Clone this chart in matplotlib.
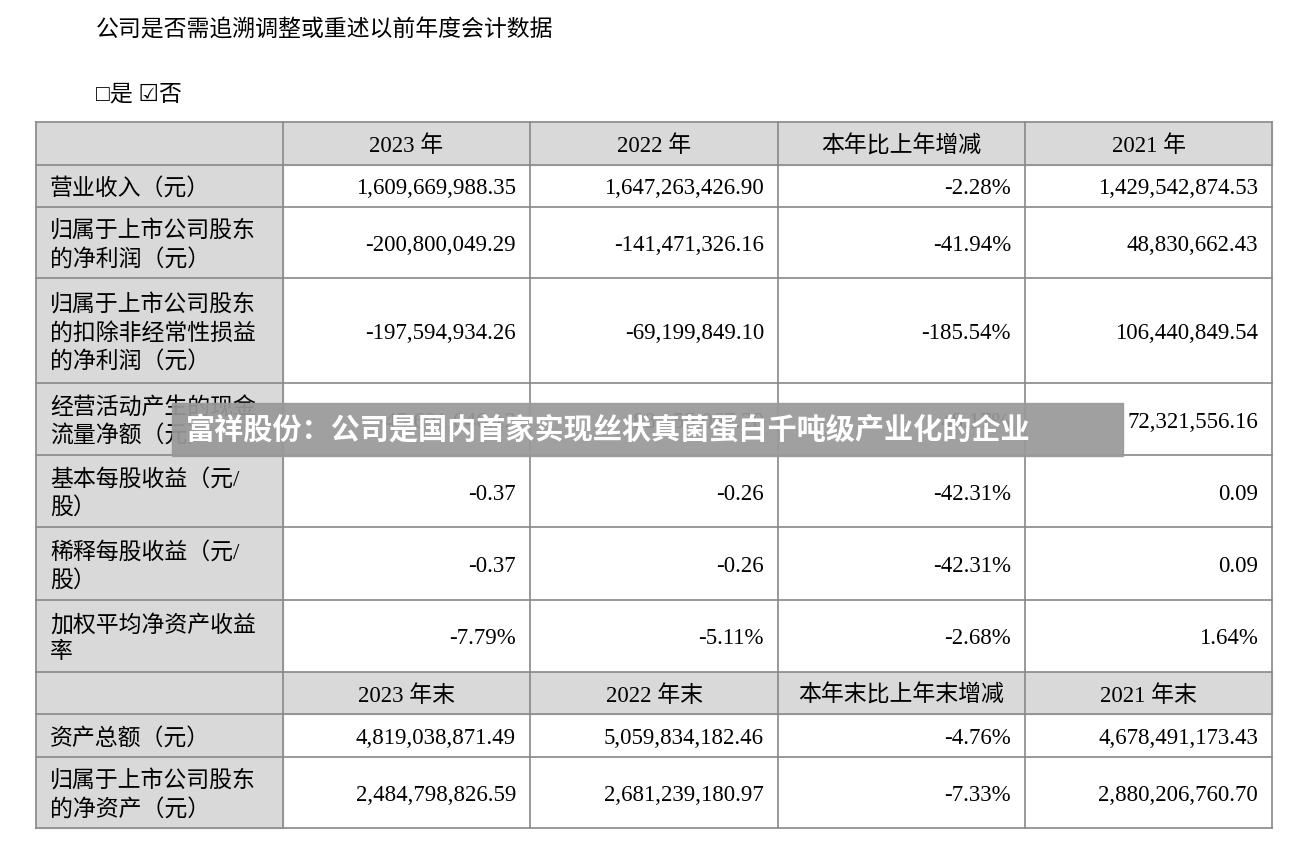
import matplotlib.pyplot as plt
from matplotlib.patches import Rectangle

plt.rcParams['font.family'] = ['Liberation Serif', 'Noto Sans CJK SC', 'DejaVu Sans']

title = "公司是否需追溯调整或重述以前年度会计数据"
choice = "□是 ☑否"
header1 = ["2023 年", "2022 年", "本年比上年增减", "2021 年"]
header2 = ["2023 年末", "2022 年末", "本年末比上年末增减", "2021 年末"]
labels1 = ["营业收入（元）", "归属于上市公司股东\n的净利润（元）",
           "归属于上市公司股东\n的扣除非经常性损益\n的净利润（元）",
           "经营活动产生的现金\n流量净额（元）", "基本每股收益（元/\n股）",
           "稀释每股收益（元/\n股）", "加权平均净资产收益\n率"]
values1 = [
    ["1,609,669,988.35", "1,647,263,426.90", "-2.28%", "1,429,542,874.53"],
    ["-200,800,049.29", "-141,471,326.16", "-41.94%", "48,830,662.43"],
    ["-197,594,934.26", "-69,199,849.10", "-185.54%", "106,440,849.54"],
    ["-45,691,046.12", "-88,155,067.20", "48.17%", "72,321,556.16"],
    ["-0.37", "-0.26", "-42.31%", "0.09"],
    ["-0.37", "-0.26", "-42.31%", "0.09"],
    ["-7.79%", "-5.11%", "-2.68%", "1.64%"],
]
labels2 = ["资产总额（元）", "归属于上市公司股东\n的净资产（元）"]
values2 = [
    ["4,819,038,871.49", "5,059,834,182.46", "-4.76%", "4,678,491,173.43"],
    ["2,484,798,826.59", "2,681,239,180.97", "-7.33%", "2,880,206,760.70"],
]
banner = "富祥股份：公司是国内首家实现丝状真菌蛋白千吨级产业化的企业"

W, H = 1296, 860
fig = plt.figure(figsize=(W / 100, H / 100), dpi=100)
ax = fig.add_axes([0, 0, 1, 1])
ax.set_xlim(0, W)
ax.set_ylim(H, 0)
ax.axis('off')

xs = [36, 283, 530, 778, 1025, 1272]
ys = [122, 165, 207, 278, 383, 455, 527, 600, 672, 714, 757, 828]
gray = "#d9d9d9"
fs = 16.5
dy = 3

ax.text(96, 30, title, fontsize=fs, va='center', ha='left')
ax.text(96, 95, choice, fontsize=fs, va='center', ha='left')

rows = [("h", header1)] + [("r", (l, v)) for l, v in zip(labels1, values1)] + \
       [("h", header2)] + [("r", (l, v)) for l, v in zip(labels2, values2)]

for i, (kind, content) in enumerate(rows):
    y0, y1 = ys[i], ys[i + 1]
    ym = (y0 + y1) / 2 + dy
    if kind == "h":
        ax.add_patch(Rectangle((xs[0], y0), xs[-1] - xs[0], y1 - y0, color=gray, zorder=0))
        for j, t in enumerate(content):
            ax.text((xs[j + 1] + xs[j + 2]) / 2, ym, t, fontsize=fs, ha='center', va='center')
    else:
        lab, vals = content
        ax.add_patch(Rectangle((xs[0], y0), xs[1] - xs[0], y1 - y0, color=gray, zorder=0))
        ax.text(xs[0] + 14, ym, lab, fontsize=fs, ha='left', va='center', linespacing=1.35)
        for j, t in enumerate(vals):
            ax.text(xs[j + 2] - 14, ym, t, fontsize=fs, ha='right', va='center')

for y in ys:
    ax.plot([xs[0], xs[-1]], [y, y], color="#888888", lw=1.2)
for x in xs:
    ax.plot([x, x], [ys[0], ys[-1]], color="#888888", lw=1.2)

ax.add_patch(Rectangle((172, 403), 951, 53, color="#999999", alpha=0.93, zorder=5))
ax.text(186, 429, banner, fontsize=21, color="white", fontweight='bold',
        family=['Noto Sans CJK SC', 'DejaVu Sans'], ha='left', va='center', zorder=6)

fig.savefig("out.png", dpi=100, facecolor="white")
